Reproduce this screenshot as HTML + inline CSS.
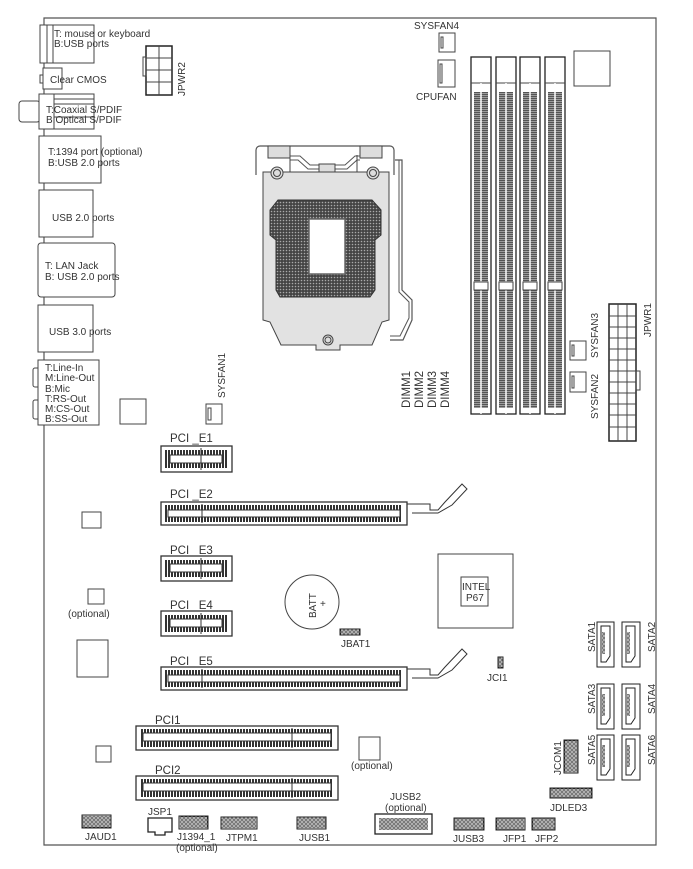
<!DOCTYPE html>
<html><head><meta charset="utf-8"><style>
html,body{margin:0;padding:0;background:#fff;}
svg{display:block;}
text{font-family:"Liberation Sans",sans-serif;fill:#333;}
.s{font-size:10px;}
.m{font-size:11.5px;}
</style></head><body>
<svg width="693" height="869" viewBox="0 0 693 869" xmlns="http://www.w3.org/2000/svg">
<defs>
<pattern id="pin" width="4" height="4" patternUnits="userSpaceOnUse"><rect width="4" height="4" fill="#fff"/><rect x="0.8" y="0.8" width="2.4" height="2.4" fill="none" stroke="#222" stroke-width="0.8"/></pattern>
<pattern id="dimm" width="4" height="2" patternUnits="userSpaceOnUse"><rect width="4" height="2" fill="#555"/><rect y="1" width="4" height="0.7" fill="#bbb"/></pattern>
<pattern id="cpu" width="3" height="3" patternUnits="userSpaceOnUse"><rect width="3" height="3" fill="#444"/><circle cx="1.5" cy="1.5" r="0.8" fill="#aaa"/></pattern>
<pattern id="pcie" width="3" height="4" patternUnits="userSpaceOnUse"><rect width="3" height="4" fill="#fff"/><rect width="2" height="4" fill="#333"/></pattern>
</defs>
<g fill="none" stroke="#444" stroke-width="1">
<path d="M44 18 H656 V845 H44 Z" stroke="#555" stroke-width="1.2"/>
<rect x="40" y="25" width="54" height="38" fill="#fff"/><line x1="47" y1="25" x2="47" y2="63"/><line x1="53" y1="25" x2="53" y2="63"/>
<rect x="43" y="68" width="19" height="21" fill="#fff"/><rect x="40" y="75" width="3" height="8"/>
<rect x="19" y="101" width="21" height="21" rx="3" fill="#fff"/><rect x="39" y="94" width="55" height="35" fill="#fff"/><line x1="54" y1="94" x2="54" y2="129"/><line x1="54" y1="99" x2="94" y2="99"/><line x1="54" y1="104" x2="94" y2="104"/><line x1="54" y1="117" x2="94" y2="117"/>
<rect x="39" y="136" width="62" height="47" fill="#fff"/>
<rect x="39" y="190" width="54" height="47" fill="#fff"/>
<rect x="38" y="243" width="77" height="54" rx="3" fill="#fff"/>
<rect x="38" y="305" width="55" height="47" fill="#fff"/>
<path d="M38 368 h-3 a2 2 0 0 0 -2 2 v15 a2 2 0 0 0 2 2 h3 M38 400 h-3 a2 2 0 0 0 -2 2 v15 a2 2 0 0 0 2 2 h3"/>
<rect x="38" y="360" width="61" height="65" fill="#fff"/>
<rect x="120" y="399" width="26" height="25"/>
<rect x="146" y="46" width="26" height="49" stroke="#222" stroke-width="1.5"/><rect x="143" y="57" width="3" height="19"/>
<path d="M159 46 V95 M146 58 H172 M146 70 H172 M146 82 H172"/>
<rect x="206" y="404" width="16" height="20"/><rect x="208" y="408" width="3" height="12"/>
<rect x="439" y="33" width="16" height="19"/><rect x="441" y="37" width="2" height="11"/>
<rect x="438" y="60" width="17" height="27"/><rect x="440" y="64" width="2" height="19"/>
<rect x="570" y="341" width="16" height="19"/><rect x="572" y="345" width="2" height="11"/>
<rect x="570" y="372" width="16" height="20"/><rect x="572" y="376" width="2" height="12"/>
<g>
<rect x="471" y="57" width="20" height="357" stroke="#222" stroke-width="1.3"/><line x1="471" y1="83" x2="491" y2="83"/><rect x="474" y="92" width="14" height="316" fill="url(#dimm)" stroke="none"/><line x1="481" y1="83" x2="481" y2="414" stroke="#fff" stroke-width="1.5"/><rect x="474" y="282" width="14" height="8" fill="#fff"/>
<rect x="496" y="57" width="20" height="357" stroke="#222" stroke-width="1.3"/><line x1="496" y1="83" x2="516" y2="83"/><rect x="499" y="92" width="14" height="316" fill="url(#dimm)" stroke="none"/><line x1="506" y1="83" x2="506" y2="414" stroke="#fff" stroke-width="1.5"/><rect x="499" y="282" width="14" height="8" fill="#fff"/>
<rect x="520" y="57" width="20" height="357" stroke="#222" stroke-width="1.3"/><line x1="520" y1="83" x2="540" y2="83"/><rect x="523" y="92" width="14" height="316" fill="url(#dimm)" stroke="none"/><line x1="530" y1="83" x2="530" y2="414" stroke="#fff" stroke-width="1.5"/><rect x="523" y="282" width="14" height="8" fill="#fff"/>
<rect x="545" y="57" width="20" height="357" stroke="#222" stroke-width="1.3"/><line x1="545" y1="83" x2="565" y2="83"/><rect x="548" y="92" width="14" height="316" fill="url(#dimm)" stroke="none"/><line x1="555" y1="83" x2="555" y2="414" stroke="#fff" stroke-width="1.5"/><rect x="548" y="282" width="14" height="8" fill="#fff"/>
</g>
<rect x="574" y="51" width="36" height="35"/>
<rect x="609" y="304" width="27" height="137" stroke="#222" stroke-width="1.5"/><rect x="636" y="371" width="4" height="19"/>
<path d="M618 304V441 M627 304V441 M609 316H636 M609 327H636 M609 338H636 M609 349H636 M609 360H636 M609 371H636 M609 382H636 M609 393H636 M609 404H636 M609 415H636 M609 427H636"/>
<!-- CPU socket -->
<path d="M256 175 V150 a4 4 0 0 1 4 -4 H390 a4 4 0 0 1 4 4 V175" stroke="#555" stroke-width="1.2"/>
<path d="M263 172 H389 V320 L382 322 L372 345 H340 V350 H316 V345 H281 L270 322 L263 320 Z" fill="#e2e2e2" stroke="#444"/>
<rect x="268" y="146" width="22" height="12" fill="#ddd"/><rect x="360" y="146" width="22" height="12" fill="#ddd"/>
<path d="M290 156 H300 L310 165 H345 L355 156 H360" stroke="#555"/>
<path d="M290 160 H298 L308 169 H347 L357 160 H360" stroke="#555"/>
<rect x="319" y="164" width="16" height="8" fill="#ddd"/>
<line x1="290" y1="155" x2="290" y2="172"/><line x1="357" y1="155" x2="357" y2="172"/>
<path d="M270 210 L278 200 H372 L381 210 V235 L375 240 V290 L370 297 H280 L276 290 V240 L270 235 Z" fill="url(#cpu)" stroke="#333"/>
<rect x="309" y="219" width="36" height="55" fill="#fff" stroke="#666" stroke-width="1.5"/>
<circle cx="277" cy="173" r="6" fill="#ddd"/><circle cx="277" cy="173" r="3.5"/>
<circle cx="373" cy="173" r="6" fill="#ddd"/><circle cx="373" cy="173" r="3.5"/>
<circle cx="328" cy="340" r="5" fill="#ddd"/><circle cx="328" cy="340" r="3"/>
<path d="M395 160 H402 V290 L412 300 V320 L403 340 H390" stroke="#555" stroke-width="1.2"/>
<path d="M399 160 V292 L409 302 V318 L400 336 H390" stroke="#555" stroke-width="1"/>
<g stroke="#333">
<rect x="161" y="446" width="71" height="26" stroke-width="1.3"/><rect x="165" y="450" width="63" height="18" fill="url(#pcie)" stroke="none"/><rect x="170" y="455" width="52" height="8" fill="#fff"/><line x1="201" y1="448" x2="201" y2="470"/>
<rect x="161" y="556" width="71" height="25" stroke-width="1.3"/><rect x="165" y="560" width="63" height="17" fill="url(#pcie)" stroke="none"/><rect x="170" y="564" width="52" height="8" fill="#fff"/><line x1="201" y1="558" x2="201" y2="579"/>
<rect x="161" y="611" width="71" height="25" stroke-width="1.3"/><rect x="165" y="615" width="63" height="17" fill="url(#pcie)" stroke="none"/><rect x="170" y="619" width="52" height="8" fill="#fff"/><line x1="201" y1="613" x2="201" y2="634"/>
<rect x="161" y="502" width="246" height="23" stroke-width="1.3"/><rect x="165" y="505" width="237" height="17" fill="url(#pcie)" stroke="none"/><rect x="168" y="510" width="232" height="7" fill="#fff"/><line x1="202" y1="504" x2="202" y2="523"/>
<path d="M407 504 H430 V510 H438 L445 502 L462 484 L467 489 L452 505 L438 513 H412" />
<rect x="161" y="667" width="246" height="23" stroke-width="1.3"/><rect x="165" y="670" width="237" height="17" fill="url(#pcie)" stroke="none"/><rect x="168" y="675" width="232" height="7" fill="#fff"/><line x1="202" y1="669" x2="202" y2="688"/>
<path d="M407 669 H430 V675 H438 L445 667 L462 649 L467 654 L452 670 L438 678 H412" />
<rect x="136" y="726" width="202" height="24" stroke-width="1.3"/><rect x="140" y="729" width="193" height="18" fill="url(#pcie)" stroke="none"/><rect x="143" y="733" width="188" height="8" fill="#fff"/><line x1="292" y1="728" x2="292" y2="748"/>
<rect x="136" y="776" width="202" height="24" stroke-width="1.3"/><rect x="140" y="779" width="193" height="18" fill="url(#pcie)" stroke="none"/><rect x="143" y="783" width="188" height="8" fill="#fff"/><line x1="292" y1="778" x2="292" y2="798"/>
</g>
<rect x="82" y="512" width="19" height="16"/>
<rect x="88" y="589" width="16" height="15"/>
<rect x="77" y="640" width="31" height="37"/>
<rect x="96" y="746" width="15" height="16"/>
<rect x="359" y="737" width="21" height="23"/>
<circle cx="312" cy="602" r="27"/>
<rect x="438" y="554" width="75" height="74"/><rect x="461" y="577" width="27" height="29"/>
<g stroke="#222">
<rect x="597" y="622" width="17" height="45"/><path d="M601 626 H610 V656 L606 662 H601 Z"/><rect x="602" y="632" width="3" height="22" fill="url(#pin)" stroke="none"/>
<rect x="622" y="622" width="18" height="45"/><path d="M626 626 H635 V656 L631 662 H626 Z"/><rect x="627" y="632" width="3" height="22" fill="url(#pin)" stroke="none"/>
<rect x="597" y="684" width="17" height="45"/><path d="M601 688 H610 V718 L606 724 H601 Z"/><rect x="602" y="694" width="3" height="22" fill="url(#pin)" stroke="none"/>
<rect x="622" y="684" width="18" height="45"/><path d="M626 688 H635 V718 L631 724 H626 Z"/><rect x="627" y="694" width="3" height="22" fill="url(#pin)" stroke="none"/>
<rect x="597" y="735" width="17" height="45"/><path d="M601 739 H610 V769 L606 775 H601 Z"/><rect x="602" y="745" width="3" height="22" fill="url(#pin)" stroke="none"/>
<rect x="622" y="735" width="18" height="45"/><path d="M626 739 H635 V769 L631 775 H626 Z"/><rect x="627" y="745" width="3" height="22" fill="url(#pin)" stroke="none"/>
</g>
<g stroke="#222">
<rect x="340" y="629" width="20" height="6" fill="url(#pin)"/>
<rect x="498" y="657" width="5" height="11" fill="url(#pin)"/>
<rect x="564" y="740" width="14" height="33" fill="url(#pin)"/>
<rect x="550" y="788" width="42" height="10" fill="url(#pin)"/>
<rect x="82" y="815" width="29" height="13" fill="url(#pin)"/>
<path d="M148 818 H172 V832 H165 V835 H155 V832 H148 Z" stroke-width="1.3"/>
<rect x="179" y="816" width="29" height="13" fill="url(#pin)"/>
<rect x="221" y="817" width="36" height="12" fill="url(#pin)"/>
<rect x="297" y="817" width="29" height="12" fill="url(#pin)"/>
<rect x="375" y="814" width="57" height="20" stroke-width="1.3"/><rect x="379" y="818" width="49" height="12" fill="url(#pin)" stroke="none"/>
<rect x="454" y="818" width="30" height="12" fill="url(#pin)"/>
<rect x="496" y="818" width="29" height="12" fill="url(#pin)"/>
<rect x="532" y="818" width="23" height="12" fill="url(#pin)"/>
</g>
</g>
<g>
<text class="s" x="54" y="37">T: mouse or keyboard</text>
<text class="s" x="54" y="47">B:USB ports</text>
<text class="s" x="50" y="83">Clear CMOS</text>
<text class="s" x="46" y="113">T:Coaxial S/PDIF</text>
<text class="s" x="46" y="123">B:Optical S/PDIF</text>
<text class="s" x="48" y="155">T:1394 port (optional)</text>
<text class="s" x="48" y="166">B:USB 2.0 ports</text>
<text class="s" x="52" y="221">USB 2.0 ports</text>
<text class="s" x="45" y="269">T: LAN Jack</text>
<text class="s" x="45" y="280">B: USB 2.0  ports</text>
<text class="s" x="49" y="335">USB 3.0  ports</text>
<text class="s" x="45" y="371">T:Line-In</text>
<text class="s" x="45" y="381">M:Line-Out</text>
<text class="s" x="45" y="392">B:Mic</text>
<text class="s" x="45" y="402">T:RS-Out</text>
<text class="s" x="45" y="412">M:CS-Out</text>
<text class="s" x="45" y="422">B:SS-Out</text>
<text class="s" transform="translate(185 96) rotate(-90)">JPWR2</text>
<text class="s" transform="translate(225 398) rotate(-90)">SYSFAN1</text>
<text class="s" x="414" y="29">SYSFAN4</text>
<text class="s" x="416" y="100">CPUFAN</text>
<text class="m" transform="translate(410 408) rotate(-90)">DIMM1</text>
<text class="m" transform="translate(423 408) rotate(-90)">DIMM2</text>
<text class="m" transform="translate(436 408) rotate(-90)">DIMM3</text>
<text class="m" transform="translate(449 408) rotate(-90)">DIMM4</text>
<text class="s" transform="translate(598 358) rotate(-90)">SYSFAN3</text>
<text class="s" transform="translate(598 419) rotate(-90)">SYSFAN2</text>
<text class="s" transform="translate(651 337) rotate(-90)">JPWR1</text>
<text class="m" x="170" y="442">PCI _E1</text>
<text class="m" x="170" y="498">PCI _E2</text>
<text class="m" x="170" y="554">PCI _E3</text>
<text class="m" x="170" y="609">PCI _E4</text>
<text class="m" x="170" y="665">PCI _E5</text>
<text class="m" x="155" y="724">PCI1</text>
<text class="m" x="155" y="774">PCI2</text>
<text class="s" transform="translate(316 618) rotate(-90)">BATT</text>
<text class="s" x="320" y="607">+</text>
<text class="s" x="341" y="647">JBAT1</text>
<text class="s" x="462" y="590">INTEL</text>
<text class="s" x="466" y="601">P67</text>
<text class="s" x="487" y="681">JCI1</text>
<text class="s" x="68" y="617">(optional)</text>
<text class="s" x="351" y="769">(optional)</text>
<text class="s" transform="translate(595 652) rotate(-90)">SATA1</text>
<text class="s" transform="translate(655 652) rotate(-90)">SATA2</text>
<text class="s" transform="translate(595 714) rotate(-90)">SATA3</text>
<text class="s" transform="translate(655 714) rotate(-90)">SATA4</text>
<text class="s" transform="translate(595 765) rotate(-90)">SATA5</text>
<text class="s" transform="translate(655 765) rotate(-90)">SATA6</text>
<text class="s" transform="translate(561 775) rotate(-90)">JCOM1</text>
<text class="s" x="550" y="811">JDLED3</text>
<text class="s" x="390" y="800">JUSB2</text>
<text class="s" x="385" y="811">(optional)</text>
<text class="s" x="85" y="840">JAUD1</text>
<text class="s" x="148" y="815">JSP1</text>
<text class="s" x="177" y="840">J1394_1</text>
<text class="s" x="176" y="851">(optional)</text>
<text class="s" x="226" y="841">JTPM1</text>
<text class="s" x="299" y="841">JUSB1</text>
<text class="s" x="453" y="842">JUSB3</text>
<text class="s" x="503" y="842">JFP1</text>
<text class="s" x="535" y="842">JFP2</text>
</g>
</svg>
</body></html>
